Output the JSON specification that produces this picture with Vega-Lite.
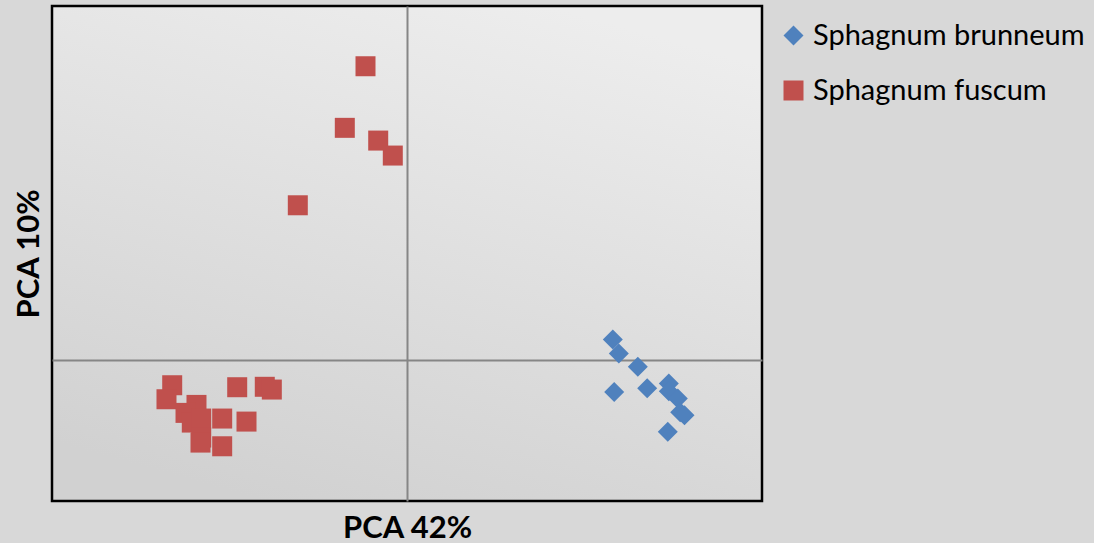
{
  "$schema": "https://vega.github.io/schema/vega-lite/v6.json",
  "width": 710,
  "height": 495,
  "autosize": {"type": "none"},
  "padding": {"left": 52, "top": 6, "right": 332, "bottom": 42},
  "background": "#d8d8d8",
  "data": {
    "values": [
      {"species": "Sphagnum fuscum", "pc1": -1.169, "pc2": 4.148},
      {"species": "Sphagnum fuscum", "pc1": -1.752, "pc2": 3.277},
      {"species": "Sphagnum fuscum", "pc1": -0.811, "pc2": 3.097},
      {"species": "Sphagnum fuscum", "pc1": -0.4, "pc2": 2.885},
      {"species": "Sphagnum fuscum", "pc1": -3.076, "pc2": 2.182},
      {"species": "Sphagnum fuscum", "pc1": -6.614, "pc2": -0.363},
      {"species": "Sphagnum fuscum", "pc1": -6.775, "pc2": -0.561},
      {"species": "Sphagnum fuscum", "pc1": -4.783, "pc2": -0.391},
      {"species": "Sphagnum fuscum", "pc1": -4.006, "pc2": -0.385},
      {"species": "Sphagnum fuscum", "pc1": -3.808, "pc2": -0.424},
      {"species": "Sphagnum fuscum", "pc1": -5.93, "pc2": -0.641},
      {"species": "Sphagnum fuscum", "pc1": -6.239, "pc2": -0.754},
      {"species": "Sphagnum fuscum", "pc1": -6.062, "pc2": -0.891},
      {"species": "Sphagnum fuscum", "pc1": -5.797, "pc2": -0.834},
      {"species": "Sphagnum fuscum", "pc1": -5.206, "pc2": -0.834},
      {"species": "Sphagnum fuscum", "pc1": -4.521, "pc2": -0.877},
      {"species": "Sphagnum fuscum", "pc1": -5.797, "pc2": -1.103},
      {"species": "Sphagnum fuscum", "pc1": -5.817, "pc2": -1.174},
      {"species": "Sphagnum fuscum", "pc1": -5.206, "pc2": -1.226},
      {"species": "Sphagnum brunneum", "pc1": 5.797, "pc2": 0.283},
      {"species": "Sphagnum brunneum", "pc1": 5.966, "pc2": 0.085},
      {"species": "Sphagnum brunneum", "pc1": 6.501, "pc2": -0.103},
      {"species": "Sphagnum brunneum", "pc1": 5.837, "pc2": -0.457},
      {"species": "Sphagnum brunneum", "pc1": 6.766, "pc2": -0.406},
      {"species": "Sphagnum brunneum", "pc1": 7.375, "pc2": -0.339},
      {"species": "Sphagnum brunneum", "pc1": 7.375, "pc2": -0.448},
      {"species": "Sphagnum brunneum", "pc1": 7.628, "pc2": -0.552},
      {"species": "Sphagnum brunneum", "pc1": 7.696, "pc2": -0.745},
      {"species": "Sphagnum brunneum", "pc1": 7.817, "pc2": -0.788},
      {"species": "Sphagnum brunneum", "pc1": 7.346, "pc2": -1.022}
    ]
  },
  "mark": {"type": "point", "filled": true, "opacity": 1, "size": 400},
  "encoding": {
    "x": {
      "field": "pc1", "type": "quantitative",
      "title": "PCA 42%",
      "scale": {"domain": [-10, 10], "nice": false, "zero": false},
      "axis": {"values": [0], "grid": true, "labels": false, "ticks": false, "domain": false,
               "titlePadding": 36, "titleBaseline": "alphabetic"}
    },
    "y": {
      "field": "pc2", "type": "quantitative",
      "title": "PCA 10%",
      "scale": {"domain": [-2, 5], "nice": false, "zero": false},
      "axis": {"values": [0], "grid": true, "labels": false, "ticks": false, "domain": false,
               "titlePadding": 14, "titleBaseline": "alphabetic"}
    },
    "color": {
      "field": "species", "type": "nominal",
      "scale": {"domain": ["Sphagnum brunneum", "Sphagnum fuscum"], "range": ["#4F81BD", "#C0504D"]},
      "legend": {"title": null, "orient": "none", "legendX": 727, "legendY": 15}
    },
    "shape": {
      "field": "species", "type": "nominal",
      "scale": {"domain": ["Sphagnum brunneum", "Sphagnum fuscum"], "range": ["diamond", "square"]},
      "legend": {"title": null, "orient": "none", "legendX": 727, "legendY": 15}
    }
  },
  "config": {
    "view": {
      "stroke": "#000000",
      "strokeWidth": 2.5,
      "fill": {
        "gradient": "linear",
        "x1": 0.7, "y1": 0,
        "x2": 0.3, "y2": 1,
        "stops": [
          {"offset": 0, "color": "#ededed"},
          {"offset": 1, "color": "#d1d1d1"}
        ]
      }
    },
    "axis": {
      "gridColor": "#868686",
      "gridWidth": 2,
      "gridOpacity": 1,
      "titleFont": "Lato",
      "titleFontWeight": "bold",
      "titleFontSize": 31,
      "titleColor": "#000000"
    },
    "legend": {
      "labelFont": "Lato",
      "labelFontSize": 29,
      "labelColor": "#000000",
      "labelLimit": 400,
      "labelOffset": 5,
      "symbolSize": 400,
      "symbolType": "square",
      "symbolStrokeWidth": 0,
      "rowPadding": 25
    }
  }
}
